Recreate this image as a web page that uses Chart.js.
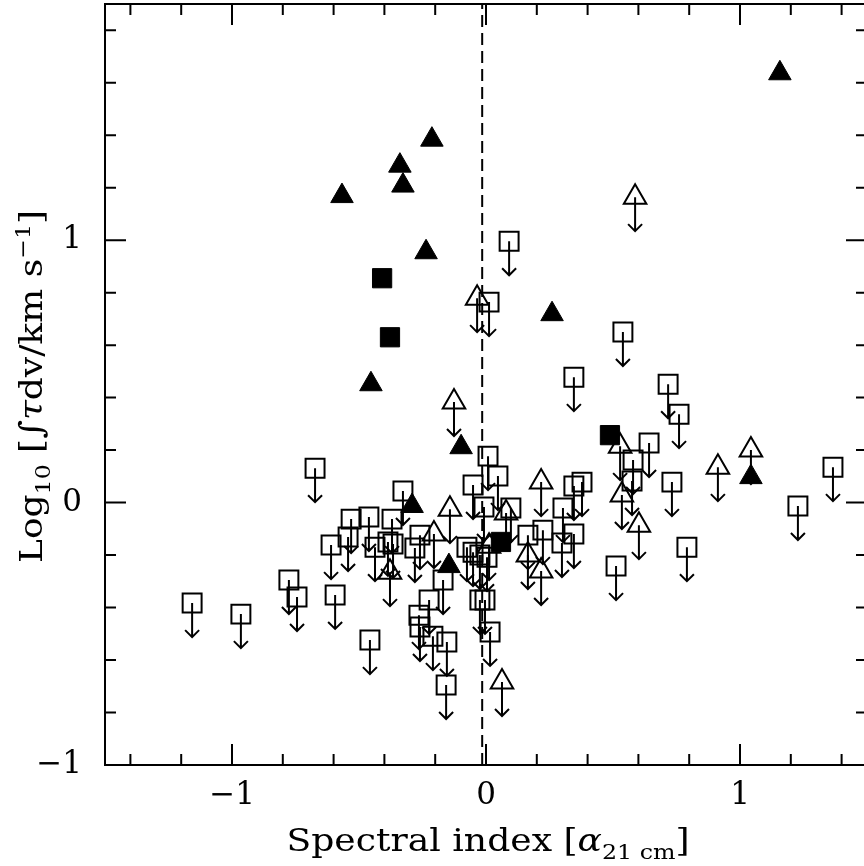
<!DOCTYPE html>
<html>
<head>
<meta charset="utf-8">
<script src="https://cdn.jsdelivr.net/npm/chart.js@4.4.0/dist/chart.umd.min.js"></script>
<style>
  html, body { margin: 0; padding: 0; background: #fff; overflow: hidden; }
  #wrap { width: 868px; height: 866px; }
</style>
</head>
<body>
<div id="wrap"><canvas id="chart" width="868" height="866"></canvas></div>
<script>
// [spectral index, log10 integrated optical depth]
const detTriangles = [
  [1.157, 1.636], [-0.213, 1.383], [-0.339, 1.284], [-0.327, 1.208], [-0.567, 1.168],
  [-0.236, 0.954], [0.260, 0.718], [-0.453, 0.451], [-0.098, 0.211], [-0.291, -0.013],
  [-0.146, -0.242], [1.043, 0.097]
];
const detSquares = [
  [-0.409, 0.855], [-0.378, 0.630], [0.488, 0.257], [0.059, -0.150]
];
// upper limits (drawn with a downward arrow)
const limTriangles = [
  [0.587, 1.164], [-0.035, 0.779], [-0.126, 0.383], [-0.378, -0.265], [-0.205, -0.120],
  [-0.142, -0.025], [0.079, -0.040], [0.217, 0.078], [0.165, -0.200], [0.217, -0.261],
  [0.012, -0.166], [0.063, -0.684], [0.528, 0.215], [0.535, 0.029], [0.602, -0.086],
  [0.913, 0.135], [1.043, 0.200]
];
const limSquares = [
  [-1.157, -0.383], [-0.965, -0.425], [-0.776, -0.295], [-0.744, -0.360], [-0.673, 0.131],
  [-0.594, -0.352], [-0.610, -0.162], [-0.543, -0.131], [-0.531, -0.063], [-0.461, -0.055],
  [-0.370, -0.063], [-0.437, -0.170], [-0.386, -0.150], [-0.366, -0.158], [-0.327, 0.044],
  [-0.457, -0.524], [-0.260, -0.124], [-0.280, -0.173], [-0.169, -0.295], [-0.224, -0.371],
  [-0.264, -0.429], [-0.260, -0.474], [-0.209, -0.509], [-0.154, -0.531], [-0.157, -0.695],
  [-0.075, -0.170], [-0.051, -0.189], [-0.024, -0.200], [0.004, -0.208], [-0.024, -0.371],
  [-0.004, -0.371], [0.016, -0.493], [0.008, 0.177], [0.047, 0.101], [-0.051, 0.067],
  [-0.008, -0.017], [0.098, -0.021], [0.165, -0.124], [0.224, -0.105], [0.303, -0.021],
  [0.346, 0.063], [0.378, 0.078], [0.346, -0.120], [0.299, -0.154], [0.512, -0.242],
  [0.091, 0.996], [0.012, 0.764], [0.346, 0.478], [0.539, 0.650], [0.717, 0.451],
  [0.760, 0.337], [0.642, 0.227], [0.579, 0.162], [0.575, 0.082], [0.732, 0.078],
  [0.791, -0.170], [1.228, -0.013], [1.366, 0.135]
];
const dividerX = -0.015;
const xRange = [-1.5, 1.5];
const yRange = [-1, 1.9];
const labelledTicks = [-1, 0, 1];

const serif = '"DejaVu Serif", serif';
const toPts = arr => arr.map(p => ({ x: p[0], y: p[1] }));
const fmtTick = v => (v < 0 ? '\u2212' + Math.abs(v) : String(v));

// [text, size, baseline shift, italic]
const xTitle = [['Spectral index [', 32, 0], ['\u03b1', 32, 0, true], ['21 cm', 21, 8], [']', 32, 0]];
const yTitle = [['Log', 32, 0], ['10', 21, 8], [' [', 32, 0], ['\u222b', 32, 0, true], ['\u03c4', 32, 0, true],
  ['dv/km s', 32, 0], ['\u22121', 21, -12], [']', 32, 0]];

// draws centred on the origin, stretched to the given width
function drawRich(ctx, parts, width) {
  const font = p => (p[3] ? 'italic ' : '') + p[1] + 'px ' + serif;
  let w = 0;
  parts.forEach(p => { ctx.font = font(p); w += ctx.measureText(p[0]).width; });
  ctx.scale(width / w, 1);
  let cx = -w / 2;
  parts.forEach(p => {
    ctx.font = font(p);
    ctx.fillText(p[0], cx, p[2]);
    cx += ctx.measureText(p[0]).width;
  });
}

const axisTitles = {
  id: 'axisTitles',
  afterDraw(chart) {
    const ctx = chart.ctx;
    const a = chart.chartArea;
    ctx.save();
    ctx.fillStyle = '#000';
    ctx.textBaseline = 'alphabetic';
    ctx.save();
    ctx.translate((a.left + a.right) / 2 + 2, 851);
    drawRich(ctx, xTitle, 403);
    ctx.restore();
    ctx.save();
    ctx.translate(42, (a.top + a.bottom) / 2 + 2);
    ctx.rotate(-Math.PI / 2);
    drawRich(ctx, yTitle, 353);
    ctx.restore();
    ctx.restore();
  }
};

// box with inward ticks on all four sides
const frame = {
  id: 'frame',
  afterDraw(chart) {
    const { ctx, chartArea: a, scales: { x, y } } = chart;
    ctx.save();
    ctx.strokeStyle = '#000';
    ctx.lineWidth = 2;
    ctx.strokeRect(a.left, a.top, a.right - a.left, a.bottom - a.top);
    ctx.beginPath();
    for (let k = -7; k <= 7; k++) {
      const len = k % 5 === 0 ? 21 : 11;
      const px = x.getPixelForValue(k * 0.2);
      ctx.moveTo(px, a.bottom); ctx.lineTo(px, a.bottom - len);
      ctx.moveTo(px, a.top); ctx.lineTo(px, a.top + len);
    }
    for (let k = -5; k <= 9; k++) {
      const len = k % 5 === 0 ? 21 : 11;
      const py = y.getPixelForValue(k * 0.2);
      ctx.moveTo(a.left, py); ctx.lineTo(a.left + len, py);
      ctx.moveTo(a.right, py); ctx.lineTo(a.right - len, py);
    }
    ctx.stroke();
    ctx.restore();
  }
};

const limitArrows = {
  id: 'limitArrows',
  afterDatasetsDraw(chart) {
    const ctx = chart.ctx;
    ctx.save();
    ctx.strokeStyle = '#000';
    ctx.lineWidth = 2;
    chart.data.datasets.forEach((ds, i) => {
      if (!ds.upperLimit) return;
      chart.getDatasetMeta(i).data.forEach(pt => {
        const end = pt.y + 34;
        ctx.beginPath();
        ctx.moveTo(pt.x, pt.y); ctx.lineTo(pt.x, end);
        ctx.moveTo(pt.x - 7, end - 7); ctx.lineTo(pt.x, end); ctx.lineTo(pt.x + 7, end - 7);
        ctx.stroke();
      });
    });
    ctx.restore();
  }
};

const tickFont = { family: serif, size: 31 };
const setTicks = s => { s.ticks = labelledTicks.map(v => ({ value: v })); };

new Chart(document.getElementById('chart'), {
  type: 'scatter',
  data: {
    datasets: [
      { data: [{ x: dividerX, y: yRange[0] }, { x: dividerX, y: yRange[1] }], showLine: true,
        borderColor: '#000', borderWidth: 2, borderDash: [12, 6], pointRadius: 0 },
      { data: toPts(limSquares), pointStyle: 'rect', pointRadius: 13.4, borderWidth: 2,
        borderColor: '#000', backgroundColor: 'rgba(0,0,0,0)', upperLimit: true },
      { data: toPts(limTriangles), pointStyle: 'triangle', pointRadius: 13, borderWidth: 2,
        borderColor: '#000', backgroundColor: 'rgba(0,0,0,0)', upperLimit: true },
      { data: toPts(detSquares), pointStyle: 'rect', pointRadius: 13.6, borderWidth: 1,
        borderColor: '#000', backgroundColor: '#000' },
      { data: toPts(detTriangles), pointStyle: 'triangle', pointRadius: 13, borderWidth: 1,
        borderColor: '#000', backgroundColor: '#000' }
    ]
  },
  options: {
    responsive: false,
    animation: false,
    devicePixelRatio: 1,
    layout: { autoPadding: false, padding: { top: 4, right: 1, left: 0, bottom: 0 } },
    plugins: { legend: { display: false }, tooltip: { enabled: false } },
    scales: {
      x: {
        type: 'linear', position: 'bottom', min: xRange[0], max: xRange[1],
        afterBuildTicks: setTicks,
        ticks: { autoSkip: false, maxRotation: 0, padding: 12,
          color: '#000', font: tickFont, callback: fmtTick },
        grid: { display: false, drawTicks: false },
        border: { display: false },
        afterFit: s => { s.height = 101; s.paddingLeft = 0; s.paddingRight = 0; }
      },
      y: {
        type: 'linear', position: 'left', min: yRange[0], max: yRange[1],
        afterBuildTicks: setTicks,
        ticks: { autoSkip: false, padding: 23,
          color: '#000', font: tickFont, callback: fmtTick },
        grid: { display: false, drawTicks: false },
        border: { display: false },
        afterFit: s => { s.width = 105; s.paddingTop = 0; s.paddingBottom = 0; }
      }
    }
  },
  plugins: [frame, limitArrows, axisTitles]
});
</script>
</body>
</html>
